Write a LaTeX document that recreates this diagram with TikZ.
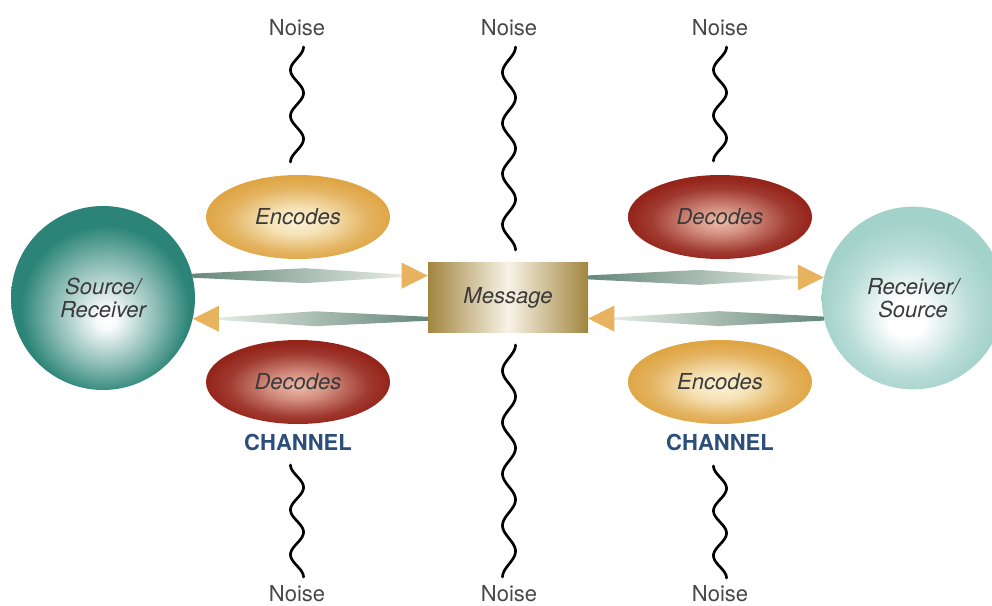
\documentclass[tikz,border=0pt]{standalone}
\usepackage{fontspec}
\setmainfont{TeX Gyre Heros}
\usetikzlibrary{shapes.geometric,calc}

% palette
\definecolor{tealdark}{HTML}{2B8477}
\definecolor{teallight}{HTML}{A3D2CA}
\definecolor{goldoval}{HTML}{DFA645}
\definecolor{goldpale}{HTML}{FBF1D2}
\definecolor{redoval}{HTML}{95241A}
\definecolor{redpale}{HTML}{EDBBA9}
\definecolor{msgedge}{HTML}{A2863F}
\definecolor{msgmid}{HTML}{F8F3E8}
\definecolor{armdark}{HTML}{66877C}
\definecolor{armlight}{HTML}{E3EAE3}
\definecolor{arrowhead}{HTML}{E8B35E}
\definecolor{channelblue}{HTML}{2B4E7B}
\definecolor{labelgray}{HTML}{3A3A3A}
\definecolor{noisegray}{HTML}{474747}

% radial fills (25bp = edge of the shape)
\pgfdeclareradialshading{srcshade}{\pgfpoint{1bp}{-6bp}}{%
  color(0bp)=(white); color(3bp)=(white!96!tealdark);
  color(14bp)=(tealdark!55!white); color(23bp)=(tealdark); color(50bp)=(tealdark)}
\pgfdeclareradialshading{dstshade}{\pgfpoint{-2bp}{-6bp}}{%
  color(0bp)=(white); color(5bp)=(white);
  color(17bp)=(teallight!75!white); color(24bp)=(teallight); color(50bp)=(teallight)}
\pgfdeclareradialshading{encshade}{\pgfpoint{0bp}{-3bp}}{%
  color(0bp)=(goldpale); color(8bp)=(goldpale!80!goldoval);
  color(19bp)=(goldoval!85!white); color(25bp)=(goldoval); color(50bp)=(goldoval)}
\pgfdeclareradialshading{decshade}{\pgfpoint{0bp}{-3bp}}{%
  color(0bp)=(redpale); color(8bp)=(redpale!70!redoval);
  color(19bp)=(redoval!90!white); color(25bp)=(redoval); color(50bp)=(redoval)}

\tikzset{
  ball/.style={circle, inner sep=0pt, text=labelgray, align=center,
    font=\fontsize{16.5}{17.5}\selectfont\itshape},
  oval/.style={ellipse, inner sep=0pt, minimum width=138pt, minimum height=63pt,
    text=labelgray, font=\fontsize{16.5}{17.5}\selectfont\itshape},
  msgbox/.style={rectangle, inner sep=0pt, minimum width=120pt, minimum height=52pt,
    left color=msgedge, right color=msgedge, middle color=msgmid,
    text=labelgray, font=\fontsize{16.5}{17.5}\selectfont\itshape},
  channel/.style={text=channelblue, font=\fontsize{16.5}{17.5}\selectfont\bfseries},
  noiselabel/.style={text=noisegray, font=\fontsize{16.5}{17.5}\selectfont},
  wave/.style={black, line width=2pt, line cap=round},
  rbody/.style={left color=armdark, right color=armlight},
  lbody/.style={left color=armlight, right color=armdark},
}

% tapered arm with a triangular head: tail, head, position of widest part, fill
\newcommand\flowarrow[4]{%
  \coordinate (fa-b) at ($(#2)!19.5pt!(#1)$);
  \coordinate (fa-m) at ($(#1)!#3!(fa-b)$);
  \shade[#4] ([yshift=1.5pt]#1) -- ([yshift=5.6pt]fa-m) -- ([yshift=0.9pt]fa-b)
    -- ([yshift=-0.9pt]fa-b) -- ([yshift=-5.6pt]fa-m) -- ([yshift=-1.5pt]#1) -- cycle;
  \fill[arrowhead] (#2) -- ([yshift=9.75pt]fa-b) -- ([yshift=-9.75pt]fa-b) -- cycle;
}

% wavy noise line: start, length, number of half waves, starting side (+1 right, -1 left)
\newcommand\noisewave[4]{%
  \draw[wave, shift={(#1)}] plot[domain=0:#2, samples=140, smooth]
    ({#4*6.5*cos((\x/#2)*180*#3)}, {\x});
}

\begin{document}
\begin{tikzpicture}[x=0.75pt, y=-0.75pt]
\useasboundingbox (0,0) rectangle (992,606);

% sources and coders
\node[ball, shading=srcshade, minimum size=138pt] (src) at (103,298) {Source/\\Receiver};
\node[ball, shading=dstshade, minimum size=137pt] (dst) at (913,298) {Receiver/\\Source};
\node[oval, shading=encshade] (encL) at (298,217) {Encodes};
\node[oval, shading=decshade] (decL) at (298,382) {Decodes};
\node[oval, shading=decshade] (decR) at (720,217) {Decodes};
\node[oval, shading=encshade] (encR) at (720,382) {Encodes};
\node[msgbox] (msg) at (508,297.5) {Message};
\node[channel] (chL) at (298,442) {CHANNEL};
\node[channel] (chR) at (720,442) {CHANNEL};

% noise sources
\node[noiselabel] (nTL) at (297,28) {Noise};
\node[noiselabel] (nTC) at (509,28) {Noise};
\node[noiselabel] (nTR) at (720,28) {Noise};
\node[noiselabel] (nBL) at (297,594) {Noise};
\node[noiselabel] (nBC) at (509,594) {Noise};
\node[noiselabel] (nBR) at (720,594) {Noise};

% flows between the parties and the message
\coordinate (tl-t) at (src.14);   \coordinate (tl-h) at (msg.west |- tl-t);
\coordinate (bl-h) at (src.-13);  \coordinate (bl-t) at (msg.west |- bl-h);
\coordinate (tr-h) at (dst.167);  \coordinate (tr-t) at (msg.east |- tr-h);
\coordinate (br-t) at (dst.193);  \coordinate (br-h) at (msg.east |- br-t);
\flowarrow{tl-t}{tl-h}{0.54}{rbody}
\flowarrow{bl-t}{bl-h}{0.54}{lbody}
\flowarrow{tr-t}{tr-h}{0.53}{rbody}
\flowarrow{br-t}{br-h}{0.50}{lbody}

% noise lines
\coordinate (wTL) at (nTL.south |- 0,47);
\coordinate (wTC) at (nTC.south |- 0,47);
\coordinate (wTR) at (nTR.south |- 0,47);
\coordinate (wBL) at (nBL.north |- 0,465);
\coordinate (wBC) at (nBC.north |- 0,345);
\coordinate (wBR) at (nBR.north |- 0,466);
\noisewave{wTL}{115}{5}{1}
\noisewave{wTC}{203}{8}{1}
\noisewave{wTR}{114}{5}{1}
\noisewave{wBL}{112}{5}{-1}
\noisewave{wBC}{232}{9}{1}
\noisewave{wBR}{112}{5}{-1}
\end{tikzpicture}
\end{document}
